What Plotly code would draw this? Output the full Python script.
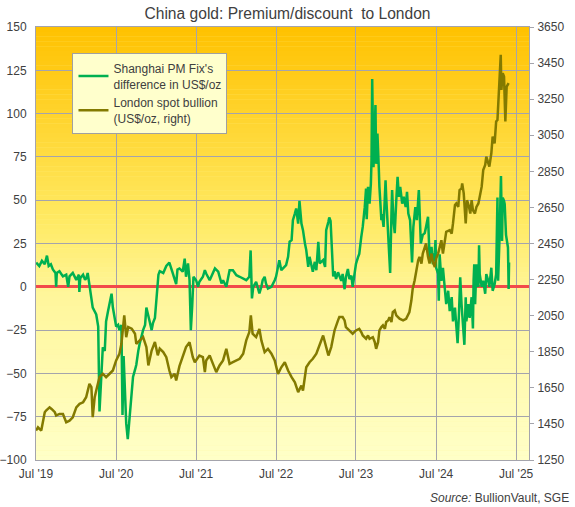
import plotly.graph_objects as go

# Shanghai PM Fix minus London price, US$/oz (left axis)
premium_dates = [
    "2019-07-02", "2019-07-16", "2019-07-28", "2019-08-10", "2019-08-20", "2019-08-28",
    "2019-09-07", "2019-09-16", "2019-09-28", "2019-10-01", "2019-10-04", "2019-10-16",
    "2019-11-01", "2019-11-16", "2019-11-25", "2019-12-01", "2019-12-16", "2020-01-01",
    "2020-01-13", "2020-01-15", "2020-01-19", "2020-02-01", "2020-02-10", "2020-02-16",
    "2020-02-22", "2020-03-01", "2020-03-10", "2020-03-16", "2020-04-01", "2020-04-10",
    "2020-04-16", "2020-04-25", "2020-05-01", "2020-05-10", "2020-05-16", "2020-05-25",
    "2020-06-01", "2020-06-10", "2020-06-16", "2020-06-25", "2020-07-01", "2020-07-10",
    "2020-07-16", "2020-07-25", "2020-07-30", "2020-08-04", "2020-08-10", "2020-08-16",
    "2020-08-23", "2020-09-01", "2020-09-10", "2020-09-16", "2020-09-25", "2020-10-01",
    "2020-10-10", "2020-10-16", "2020-11-01", "2020-11-10", "2020-11-16", "2020-11-25",
    "2020-12-01", "2020-12-10", "2020-12-16", "2020-12-25", "2021-01-01", "2021-01-10",
    "2021-01-16", "2021-02-01", "2021-02-15", "2021-03-01", "2021-03-16", "2021-04-01",
    "2021-04-07", "2021-04-16", "2021-05-01", "2021-05-10", "2021-05-16", "2021-05-25",
    "2021-06-01", "2021-06-07", "2021-06-13", "2021-06-19", "2021-07-01", "2021-07-10",
    "2021-07-16", "2021-08-01", "2021-08-10", "2021-08-16", "2021-09-01", "2021-09-16",
    "2021-09-25", "2021-10-10", "2021-10-16", "2021-10-25", "2021-11-01", "2021-11-16",
    "2021-11-25", "2021-12-01", "2021-12-16", "2022-01-01", "2022-01-16", "2022-02-01",
    "2022-02-15", "2022-03-01", "2022-03-07", "2022-03-13", "2022-03-19", "2022-04-01",
    "2022-04-16", "2022-04-25", "2022-05-01", "2022-05-10", "2022-05-16", "2022-05-25",
    "2022-06-10", "2022-06-25", "2022-07-01", "2022-07-10", "2022-07-16", "2022-07-25",
    "2022-08-01", "2022-08-16", "2022-08-25", "2022-09-01", "2022-09-10", "2022-09-16",
    "2022-09-25", "2022-10-01", "2022-10-10", "2022-10-16", "2022-10-25", "2022-11-01",
    "2022-11-10", "2022-11-16", "2022-11-25", "2022-12-01", "2022-12-16", "2022-12-25",
    "2023-01-01", "2023-01-10", "2023-01-16", "2023-02-01", "2023-02-10", "2023-02-15",
    "2023-02-25", "2023-03-01", "2023-03-07", "2023-03-13", "2023-03-19", "2023-03-25",
    "2023-04-01", "2023-04-10", "2023-04-16", "2023-04-25", "2023-05-01", "2023-05-10",
    "2023-05-16", "2023-05-25", "2023-06-01", "2023-06-10", "2023-06-16", "2023-06-25",
    "2023-07-01", "2023-07-10", "2023-07-16", "2023-07-25", "2023-08-01", "2023-08-10",
    "2023-08-16", "2023-08-19", "2023-08-25", "2023-09-01", "2023-09-07", "2023-09-10",
    "2023-09-13", "2023-09-19", "2023-09-28", "2023-10-01", "2023-10-07", "2023-10-13",
    "2023-10-16", "2023-10-25", "2023-10-28", "2023-11-04", "2023-11-13", "2023-11-16",
    "2023-11-25", "2023-12-01", "2023-12-04", "2023-12-10", "2023-12-13", "2023-12-19",
    "2023-12-25", "2024-01-01", "2024-01-07", "2024-01-13", "2024-01-19", "2024-01-28",
    "2024-02-04", "2024-02-13", "2024-02-19", "2024-02-25", "2024-03-04", "2024-03-13",
    "2024-03-19", "2024-03-28", "2024-04-04", "2024-04-13", "2024-04-16", "2024-04-22",
    "2024-05-01", "2024-05-10", "2024-05-16", "2024-05-25", "2024-06-01", "2024-06-10",
    "2024-06-16", "2024-06-25", "2024-06-28", "2024-07-01", "2024-07-10", "2024-07-13",
    "2024-07-17", "2024-07-25", "2024-08-01", "2024-08-10", "2024-08-16", "2024-08-25",
    "2024-09-01", "2024-09-10", "2024-09-16", "2024-09-25", "2024-10-01", "2024-10-07",
    "2024-10-13", "2024-10-19", "2024-10-25", "2024-11-01", "2024-11-07", "2024-11-13",
    "2024-11-16", "2024-11-25", "2024-12-01", "2024-12-10", "2024-12-16", "2024-12-19",
    "2024-12-22", "2024-12-26", "2025-01-01", "2025-01-04", "2025-01-10", "2025-01-13",
    "2025-01-16", "2025-01-25", "2025-02-01", "2025-02-10", "2025-02-15", "2025-02-24",
    "2025-03-01", "2025-03-10", "2025-03-16", "2025-03-25", "2025-04-01", "2025-04-07",
    "2025-04-10", "2025-04-16", "2025-04-19", "2025-04-23", "2025-04-28", "2025-05-01",
    "2025-05-07", "2025-05-10", "2025-05-16", "2025-05-19", "2025-05-25", "2025-05-28",
    "2025-05-30",
]
premium_values = [
    14, 12, 15, 13, 18, 12,
    13, 10, 8, 0, 8, 9,
    6, 7, 0, 6, 8, 4,
    7, -3, 5, 7, 4, 5,
    8, 0, -6, -12, -16, -23,
    -72, -50, -35, -37, -20, -14,
    -10, -4, -12, -20, -23, -22,
    -25, -22, -74, -40, -58, -79,
    -88, -75, -60, -52, -48, -45,
    -37, -33, -25, -22, -12, -16,
    -20, -25, -21, -18, -6, 7,
    9, 8, 12, 14, 8, 1.5,
    10, 10.6, 8.7, 16.3, 5.8, 13.5,
    3.8, -25, -11.5, 5.8, 3.8, 0,
    2.9, 5.8, 9.6, 7.7, 3.8, 7.7,
    10.6, 8.7, 5.8, 1.9, 3.8, 0,
    5.8, 9.6, 9.6, 6.7, 5.8, 4.8,
    3.8, 5.8, 21, -6.7, 0, 2.9,
    -3.8, 0, 3.8, 5.8, 1.9, -1,
    0, 3.8, 5.8, 11.5, 15.4, 9.6,
    10.6, 12.5, 17.3, 26, 26.9, 38.5,
    42.3, 45.2, 36.5, 49.6, 36.5, 32.7,
    25, 21.2, 11.5, 17.3, 8.7, 14.4,
    9.6, 26, 13.5, 15.4, 11.5, 32.7,
    37.5, 40, 38, 25, 6, 9,
    4.5, 8.4, 6.4, 3.5, 7.4, -1.4,
    5.5, 10.3, 4.5, 6.4, 0, 9.4,
    13.3, 17, 19, 28.7, 34.7, 46,
    56.7, 39, 57.7, 48, 59.6, 73,
    120, 69, 105, 71, 88.5, 69,
    57.7, 38.5, 42, 34.6, 61.5, 52,
    27, 19, 8, 42.3, 55.8, 38.5,
    31, 50, 63.5, 52, 57.7, 48,
    52, 46, 54.8, 42.3, 38.5, 14,
    34.6, 46, 38.5, 55.8, 42.3, 25,
    30, 31, 34.6, 40.4, 17, 23,
    13, 20, 27, 11, 7.4, -8,
    18.8, 3.5, 11, -4, -10, -2.3,
    -14, -6, -20, -12, -26, -32.6,
    -16, 5.5, -10, -24, -33.5, -6,
    -20, -10, -18, -6, -24, 3.5,
    13, -10, 13, 1.5, 0, 24,
    7.3, 0, 3.5, -4, 7.3, 3.5,
    0, 11, -2.3, 1.5, 7.3, 51.5,
    3.5, 26.5, 57, 64, 26.5, 51.5,
    49.6, 47.7, 30, 26.5, 22.7, -1.3,
    14,
]

# London spot bullion, US$/oz (right axis)
gold_dates = [
    "2019-07-01", "2019-07-10", "2019-07-25", "2019-08-01", "2019-08-10", "2019-08-16",
    "2019-09-01", "2019-09-10", "2019-09-25", "2019-10-01", "2019-10-16", "2019-11-01",
    "2019-11-10", "2019-11-16", "2019-12-01", "2019-12-16", "2020-01-01", "2020-01-16",
    "2020-02-01", "2020-02-15", "2020-03-01", "2020-03-10", "2020-03-16", "2020-03-25",
    "2020-04-01", "2020-04-16", "2020-05-01", "2020-05-16", "2020-06-01", "2020-06-16",
    "2020-07-01", "2020-07-16", "2020-07-25", "2020-08-07", "2020-08-16", "2020-08-25",
    "2020-09-10", "2020-09-25", "2020-10-01", "2020-10-16", "2020-11-01", "2020-11-16",
    "2020-11-25", "2020-12-10", "2020-12-25", "2021-01-07", "2021-01-16", "2021-02-01",
    "2021-02-15", "2021-03-01", "2021-03-10", "2021-03-25", "2021-04-01", "2021-04-16",
    "2021-05-01", "2021-05-16", "2021-06-01", "2021-06-16", "2021-06-25", "2021-07-01",
    "2021-07-16", "2021-08-01", "2021-08-10", "2021-08-16", "2021-09-01", "2021-09-16",
    "2021-10-01", "2021-10-16", "2021-11-01", "2021-11-16", "2021-12-01", "2021-12-16",
    "2022-01-01", "2022-01-16", "2022-02-01", "2022-02-15", "2022-03-01", "2022-03-08",
    "2022-03-16", "2022-04-01", "2022-04-16", "2022-04-25", "2022-05-10", "2022-05-25",
    "2022-06-10", "2022-06-25", "2022-07-10", "2022-07-25", "2022-08-10", "2022-08-25",
    "2022-09-10", "2022-09-25", "2022-10-10", "2022-10-25", "2022-11-01", "2022-11-16",
    "2022-12-01", "2022-12-16", "2023-01-01", "2023-01-16", "2023-02-01", "2023-02-15",
    "2023-02-25", "2023-03-10", "2023-03-25", "2023-04-10", "2023-04-16", "2023-05-01",
    "2023-05-10", "2023-05-16", "2023-05-25", "2023-06-01", "2023-06-16", "2023-07-01",
    "2023-07-16", "2023-07-25", "2023-08-01", "2023-08-16", "2023-08-25", "2023-09-01",
    "2023-09-16", "2023-09-25", "2023-10-01", "2023-10-10", "2023-10-16", "2023-10-25",
    "2023-11-01", "2023-11-10", "2023-11-16", "2023-11-25", "2023-12-01", "2023-12-10",
    "2023-12-16", "2023-12-25", "2024-01-01", "2024-01-16", "2024-02-01", "2024-02-15",
    "2024-03-01", "2024-03-10", "2024-03-16", "2024-03-25", "2024-04-01", "2024-04-10",
    "2024-04-16", "2024-04-25", "2024-05-01", "2024-05-10", "2024-05-16", "2024-05-25",
    "2024-06-01", "2024-06-10", "2024-06-16", "2024-06-25", "2024-07-01", "2024-07-10",
    "2024-07-16", "2024-07-25", "2024-08-01", "2024-08-10", "2024-08-16", "2024-09-01",
    "2024-09-10", "2024-09-16", "2024-09-25", "2024-10-01", "2024-10-10", "2024-10-16",
    "2024-10-25", "2024-10-28", "2024-11-04", "2024-11-13", "2024-11-19", "2024-11-28",
    "2024-12-04", "2024-12-10", "2024-12-16", "2024-12-25", "2025-01-01", "2025-01-10",
    "2025-01-16", "2025-01-25", "2025-02-01", "2025-02-10", "2025-02-15", "2025-02-24",
    "2025-03-01", "2025-03-10", "2025-03-16", "2025-03-25", "2025-04-01", "2025-04-07",
    "2025-04-13", "2025-04-16", "2025-04-22", "2025-04-25", "2025-05-01", "2025-05-07",
    "2025-05-10", "2025-05-13", "2025-05-19", "2025-05-25", "2025-05-28",
]
gold_values = [
    1413, 1431, 1413, 1450, 1515, 1524,
    1542, 1533, 1515, 1496, 1505, 1505,
    1478, 1459, 1468, 1487, 1542, 1561,
    1570, 1598, 1672, 1654, 1487, 1598,
    1635, 1709, 1728, 1709, 1728, 1746,
    1802, 1839, 1894, 2052, 1931, 1987,
    1978, 1950, 1894, 1913, 1931, 1876,
    1774, 1857, 1904, 1830, 1867, 1848,
    1820, 1746, 1709, 1728, 1691, 1770,
    1820, 1876, 1903, 1820, 1792, 1802,
    1829, 1820, 1737, 1802, 1829, 1783,
    1737, 1774, 1802, 1866, 1783, 1792,
    1802, 1811, 1839, 1913, 1959, 2052,
    1950, 1931, 1977, 1913, 1848, 1866,
    1839, 1802, 1727, 1764, 1792, 1746,
    1709, 1681, 1626, 1663, 1635, 1764,
    1792, 1811, 1839, 1894, 1940, 1876,
    1829, 1876, 1968, 2024, 2042, 2042,
    2024, 1987, 1977, 1968, 1950, 1968,
    1977, 1959, 1940, 1922, 1940, 1922,
    1931, 1903, 1866, 1903, 1968, 1987,
    1996, 1977, 2015, 2024, 2042, 2015,
    2070, 2079, 2052, 2033, 2024, 2033,
    2070, 2135, 2200, 2246, 2302, 2357,
    2376, 2339, 2394, 2431, 2450, 2376,
    2339, 2394, 2348, 2320, 2366, 2394,
    2431, 2468, 2394, 2468, 2515, 2524,
    2505, 2561, 2663, 2672, 2653, 2746,
    2755, 2783, 2728, 2561, 2690, 2653,
    2616, 2690, 2635, 2616, 2653, 2672,
    2709, 2765, 2857, 2885, 2931, 2894,
    2876, 2950, 3042, 3005, 3126, 3135,
    3274, 3394, 3496, 3302, 3394, 3375,
    3283, 3126, 3320, 3329, 3339,
]

x_tick_dates = ["2019-07-01", "2020-07-01", "2021-07-01", "2022-07-01",
                "2023-07-01", "2024-07-01", "2025-07-01"]
x_tick_labels = ["Jul '19", "Jul '20", "Jul '21", "Jul '22", "Jul '23", "Jul '24", "Jul '25"]

FONT = "Liberation Sans, Arial, sans-serif"
TEXT = "#404040"
GRID = "#a4a4ac"

fig = go.Figure()

fig.add_trace(go.Scatter(
    x=premium_dates, y=premium_values,
    name="Shanghai PM Fix's<br>difference in US$/oz",
    mode="lines", line=dict(color="#00b050", width=2.5),
))
fig.add_trace(go.Scatter(
    x=gold_dates, y=gold_values, yaxis="y2",
    name="London spot bullion<br>(US$/oz, right)",
    mode="lines", line=dict(color="#837a00", width=2.5),
))

# vertical gradient background (orange at top -> pale yellow at bottom)
stops = [(0.0, (255, 193, 0)), (0.45, (255, 234, 100)), (0.62, (255, 246, 155)), (1.0, (255, 255, 200))]
n = 90
for i in range(n):
    t = (i + 0.5) / n
    for (a, ca), (b, cb) in zip(stops[:-1], stops[1:]):
        if a <= t <= b:
            f = (t - a) / (b - a)
            c = [round(ca[k] + (cb[k] - ca[k]) * f) for k in range(3)]
            break
    fig.add_shape(type="rect", xref="x domain", yref="y domain",
                  x0=0, x1=1, y0=1 - (i + 1.05) / n, y1=1 - i / n,
                  fillcolor="rgb(%d,%d,%d)" % tuple(c), line=dict(width=0), layer="below")

fig.update_layout(
    width=575, height=507,
    margin=dict(l=36, r=46, t=27, b=47),
    paper_bgcolor="white",
    plot_bgcolor="#fff6a0",
    font=dict(family=FONT, size=12, color=TEXT),
    title=dict(text="China gold: Premium/discount\u00a0 to London", x=0.5, xanchor="center",
               y=0.974, yanchor="middle", font=dict(size=15.6, color=TEXT)),
    showlegend=True,
    legend=dict(x=0.074, y=0.94, xanchor="left", yanchor="top",
                bgcolor="#ffffcc", bordercolor="#a0a0a0", borderwidth=1,
                font=dict(size=12, color=TEXT), tracegroupgap=6),
    xaxis=dict(type="date", range=["2019-07-01", "2025-08-29"],
               tickvals=x_tick_dates, ticktext=x_tick_labels,
               showgrid=True, gridcolor=GRID, gridwidth=1,
               showline=True, linecolor=GRID, linewidth=1, mirror=True,
               ticks="", ticklabelstandoff=3, automargin=False),
    yaxis=dict(range=[-100, 150], tick0=-100, dtick=25,
               showgrid=True, gridcolor=GRID, gridwidth=1,
               zeroline=True, zerolinecolor="#f24a4a", zerolinewidth=3,
               showline=True, linecolor=GRID, linewidth=1, mirror=True,
               ticks="", ticklabelstandoff=6, automargin=False),
    yaxis2=dict(range=[1250, 3650], tick0=1250, dtick=200, overlaying="y", side="right",
                showgrid=False, zeroline=False,
                showline=True, linecolor=GRID, linewidth=1,
                ticks="outside", ticklen=4, tickcolor=GRID, ticklabelstandoff=1,
                automargin=False),
    annotations=[dict(text="<i>Source:</i> BullionVault, SGE", xref="paper", yref="paper",
                      x=1.0846, y=-0.087, xanchor="right", yanchor="middle",
                      showarrow=False, font=dict(size=12, color=TEXT))],
)

# drop the default 8px page margin so the figure sits at the window's corner
fig.write_html("out.html", config={"displayModeBar": False},
               post_script="document.body.style.margin = '0';")
